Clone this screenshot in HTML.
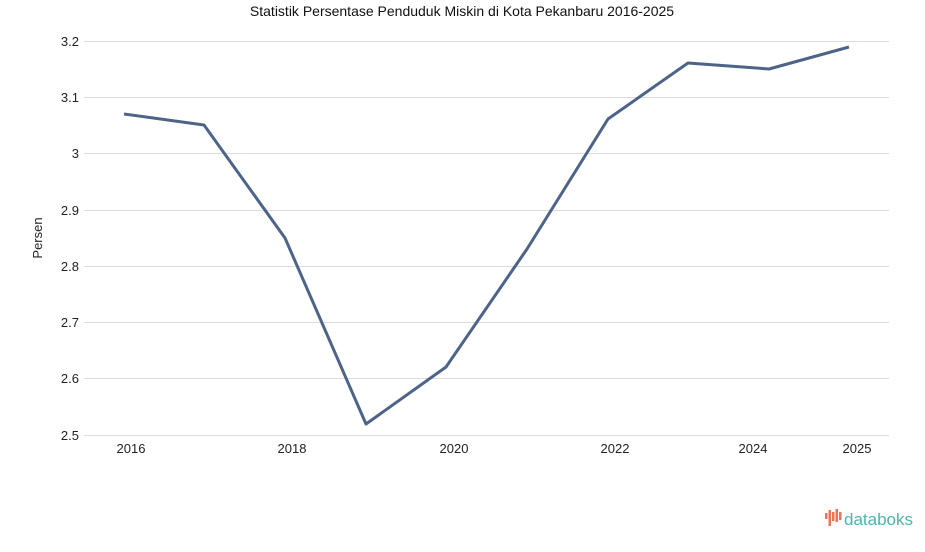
<!DOCTYPE html>
<html><head><meta charset="utf-8"><style>
body{margin:0;background:#fff;}
svg text{font-family:"Liberation Sans",sans-serif;}
</style></head><body>
<svg width="925" height="547" xmlns="http://www.w3.org/2000/svg">
<text x="462" y="16" font-size="14" text-anchor="middle" fill="#111">Statistik Persentase Penduduk Miskin di Kota Pekanbaru 2016-2025</text>
<g stroke="#dcdcdc" stroke-width="1">
<line x1="84" x2="889" y1="41.5" y2="41.5"/>
<line x1="84" x2="889" y1="97.5" y2="97.5"/>
<line x1="84" x2="889" y1="153.5" y2="153.5"/>
<line x1="84" x2="889" y1="210.5" y2="210.5"/>
<line x1="84" x2="889" y1="266.5" y2="266.5"/>
<line x1="84" x2="889" y1="322.5" y2="322.5"/>
<line x1="84" x2="889" y1="378.5" y2="378.5"/>
<line x1="84" x2="889" y1="435.5" y2="435.5"/>
</g>
<g font-size="13" fill="#222" text-anchor="end">
<text x="79" y="46">3.2</text><text x="79" y="102">3.1</text><text x="79" y="158">3</text>
<text x="79" y="215">2.9</text><text x="79" y="271">2.8</text><text x="79" y="327">2.7</text>
<text x="79" y="383">2.6</text><text x="79" y="440">2.5</text>
</g>
<text transform="translate(42,238) rotate(-90)" font-size="13" fill="#222" text-anchor="middle">Persen</text>
<g font-size="13" fill="#222" text-anchor="middle">
<text x="131" y="453">2016</text><text x="292" y="453">2018</text><text x="454" y="453">2020</text>
<text x="615" y="453">2022</text><text x="753" y="453">2024</text><text x="857" y="453">2025</text>
</g>
<polyline fill="none" stroke="#4d6488" stroke-width="3" stroke-linejoin="round" points="124,114 204,125 285,238 366,424 446,367 527,249 608,119 688,63 769,69 849,47"/>
<g fill="#f0715a">
<rect x="825" y="513" width="2.5" height="6"/><rect x="828.5" y="510" width="2.5" height="16"/>
<rect x="832" y="512" width="2.5" height="9"/><rect x="835.5" y="509" width="2.5" height="13"/>
<rect x="839" y="512" width="2.5" height="8"/>
</g>
<text x="844" y="525" font-size="17" fill="#4cb5ad">databoks</text>
</svg>
</body></html>
